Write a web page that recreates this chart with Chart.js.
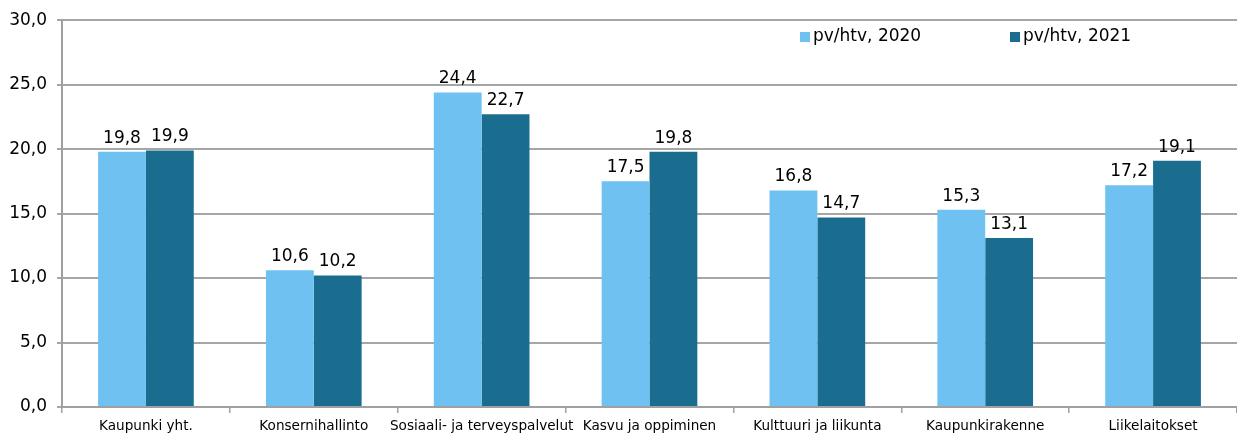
<!DOCTYPE html>
<html lang="fi">
<head>
<meta charset="UTF-8">
<title>pv/htv 2020-2021</title>
<script src="https://cdn.jsdelivr.net/npm/chart.js"></script>
<style>
  html, body { margin: 0; padding: 0; background: #fff; }
  #wrap { width: 1237px; height: 435px; position: relative; }
</style>
</head>
<body>
<div id="wrap"><canvas id="chart"></canvas></div>
<script>
// data
const categories = ['Kaupunki yht.', 'Konsernihallinto', 'Sosiaali- ja terveyspalvelut',
  'Kasvu ja oppiminen', 'Kulttuuri ja liikunta', 'Kaupunkirakenne', 'Liikelaitokset'];
const values2020 = [19.8, 10.6, 24.4, 17.5, 16.8, 15.3, 17.2];
const values2021 = [19.9, 10.2, 22.7, 19.8, 14.7, 13.1, 19.1];
const seriesNames = ['pv/htv, 2020', 'pv/htv, 2021'];
const yTicks = [0, 5, 10, 15, 20, 25, 30];

const FONT = "'DejaVu Sans', Verdana, sans-serif";
const fmt = v => v.toFixed(1).replace('.', ',');

// value labels above each bar
const barLabels = {
  id: 'barLabels',
  afterDatasetsDraw(chart) {
    const ctx = chart.ctx;
    ctx.save();
    ctx.font = '17px ' + FONT;
    ctx.fillStyle = '#000';
    ctx.textAlign = 'center';
    ctx.textBaseline = 'alphabetic';
    chart.data.datasets.forEach((ds, i) => {
      chart.getDatasetMeta(i).data.forEach((bar, j) => {
        ctx.fillText(fmt(ds.data[j]), bar.x, bar.y - 9);
      });
    });
    ctx.restore();
  }
};

// legend inside the plot, top right
const innerLegend = {
  id: 'innerLegend',
  afterDraw(chart) {
    const ctx = chart.ctx;
    const starts = [800, 1010];
    ctx.save();
    ctx.font = '17px ' + FONT;
    ctx.textBaseline = 'middle';
    chart.data.datasets.forEach((ds, i) => {
      const x = starts[i], y = 37;
      ctx.fillStyle = ds.backgroundColor;
      ctx.fillRect(x, y - 5, 10, 10);
      ctx.fillStyle = '#000';
      ctx.fillText(ds.label, x + 13, y);
    });
    ctx.restore();
  }
};

new Chart(document.getElementById('chart'), {
  type: 'bar',
  data: {
    labels: categories,
    datasets: [
      { label: seriesNames[0], data: values2020, backgroundColor: '#6FC1F1' },
      { label: seriesNames[1], data: values2021, backgroundColor: '#1B6D90' }
    ]
  },
  options: {
    responsive: true,
    maintainAspectRatio: false,
    animation: false,
    layout: { padding: { top: 12, right: 0, left: 0, bottom: 0 } },
    datasets: { bar: { categoryPercentage: 0.57, barPercentage: 1.0 } },
    plugins: { legend: { display: false }, tooltip: { enabled: false } },
    scales: {
      x: {
        grid: { display: true, drawOnChartArea: false, drawTicks: true, tickLength: 6, color: '#A0A0A0', lineWidth: 1.5 },
        border: { color: '#A0A0A0', width: 2 },
        ticks: { color: '#000', font: { family: FONT, size: 13.6 }, padding: 5, maxRotation: 0, autoSkip: false },
        afterFit(scale) { scale.height = 28; }
      },
      y: {
        min: 0, max: 30,
        afterBuildTicks(scale) { scale.ticks = yTicks.map(v => ({ value: v })); },
        grid: { color: '#A6A6A6', lineWidth: 2, drawTicks: true, tickLength: 5 },
        border: { color: '#A0A0A0', width: 2 },
        ticks: { color: '#000', font: { family: FONT, size: 17 }, padding: 10, callback: v => fmt(v) },
        afterFit(scale) { scale.width = 62; }
      }
    }
  },
  plugins: [barLabels, innerLegend]
});
</script>
</body>
</html>
